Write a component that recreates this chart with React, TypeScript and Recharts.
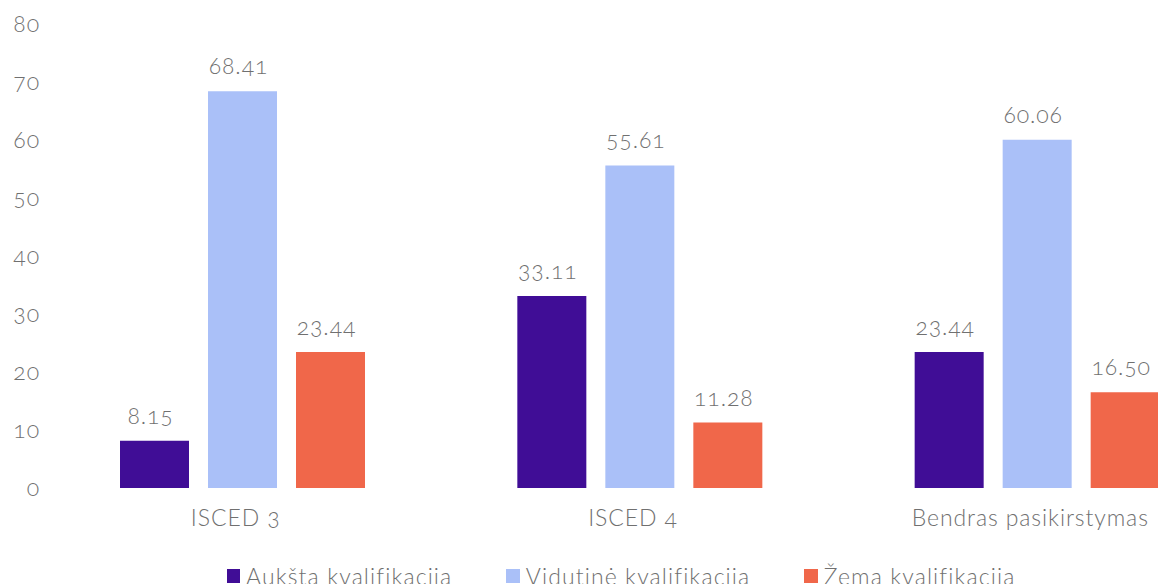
import { BarChart, Bar, XAxis, YAxis, Legend, LabelList } from 'recharts';

const categories = ['ISCED 3', 'ISCED 4', 'Bendras pasikirstymas'];
const aukstaValues = [8.15, 33.11, 23.44];
const vidutineValues = [68.41, 55.61, 60.06];
const zemaValues = [23.44, 11.28, 16.5];
const yTicks = [0, 10, 20, 30, 40, 50, 60, 70, 80];

const seriesList = [
  { key: 'auksta', name: 'Aukšta kvalifikacija', color: '#400d96' },
  { key: 'vidutine', name: 'Vidutinė kvalifikacija', color: '#aac0f8' },
  { key: 'zema', name: 'Žema kvalifikacija', color: '#f0674a' },
];

const chartData = categories.map((name, i) => ({
  name,
  auksta: aukstaValues[i],
  vidutine: vidutineValues[i],
  zema: zemaValues[i],
}));

const FONT = 'Lato, "Open Sans", sans-serif';
const TEXT = '#707070';

function LegendContent() {
  return (
    <div
      style={{
        display: 'flex',
        justifyContent: 'center',
        alignItems: 'center',
        gap: 54,
        height: 40,
        paddingLeft: 6,
        fontFamily: FONT,
        fontWeight: 300,
        fontSize: 23,
        letterSpacing: 1.1,
        color: TEXT,
      }}
    >
      {seriesList.map((s) => (
        <div key={s.key} style={{ display: 'flex', alignItems: 'center' }}>
          <span style={{ display: 'inline-block', width: 13.5, height: 13.5, background: s.color, marginRight: 6 }} />
          <span>{s.name}</span>
        </div>
      ))}
    </div>
  );
}

export default function App() {
  return (
    <div
      style={{
        position: 'absolute',
        left: 0,
        top: 0,
        width: 1158,
        height: 584,
        overflow: 'hidden',
        background: '#fff',
        fontFamily: FONT,
        fontWeight: 300,
        letterSpacing: 0.9,
        fontVariantNumeric: 'oldstyle-nums',
      }}
    >
      <BarChart
        width={1242}
        height={596}
        data={chartData}
        margin={{ top: 24, right: 6, left: 0, bottom: 0 }}
        barSize={69}
        barGap={19}
      >
        <XAxis
          dataKey="name"
          axisLine={false}
          tickLine={false}
          tickSize={0}
          tickMargin={22}
          height={68}
          interval={0}
          tick={{ fill: TEXT, fontSize: 23, fontWeight: 300, dx: -7 }}
        />
        <YAxis
          domain={[0, 80]}
          ticks={yTicks}
          width={44}
          axisLine={false}
          tickLine={false}
          tickSize={0}
          tickMargin={4}
          tick={{ fill: TEXT, fontSize: 23, fontWeight: 300 }}
        />
        <Legend verticalAlign="bottom" content={<LegendContent />} />
        {seriesList.map((s) => (
          <Bar key={s.key} dataKey={s.key} name={s.name} fill={s.color} isAnimationActive={false}>
            <LabelList
              dataKey={s.key}
              position="top"
              offset={17}
              fill={TEXT}
              fontSize={23}
              fontWeight={300}
              dx={-4}
              formatter={(v: number) => v.toFixed(2)}
            />
          </Bar>
        ))}
      </BarChart>
    </div>
  );
}
